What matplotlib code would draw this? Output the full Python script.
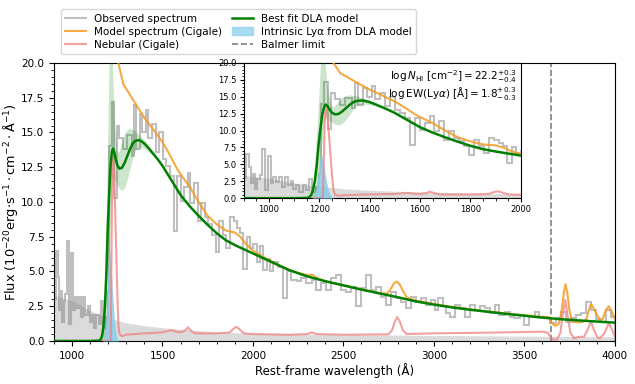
import numpy as np
import matplotlib
matplotlib.use("Agg")
import matplotlib.pyplot as plt
from matplotlib.lines import Line2D
from matplotlib.patches import Patch
from matplotlib.ticker import MultipleLocator

# observed spectrum (bin edges in rest-frame Angstrom, flux per bin)
obs_edges = [900, 910, 921, 930, 937, 944, 953, 963, 973, 984, 996, 1006, 1017, 1027, 1040,
             1051, 1063, 1074, 1086, 1097, 1108, 1121, 1134, 1147, 1160, 1172, 1186, 1197,
             1206, 1220, 1233, 1246, 1262, 1282, 1302, 1329, 1342, 1355, 1375, 1389, 1409,
             1422, 1442, 1462, 1482, 1502, 1521, 1541, 1561, 1581, 1601, 1621, 1641, 1654,
             1674, 1694, 1714, 1734, 1754, 1774, 1794, 1814, 1834, 1853, 1873, 1893, 1913,
             1928, 1946, 1965, 1983, 2002, 2020, 2038, 2057, 2075, 2094, 2112, 2140, 2167,
             2186, 2213, 2241, 2268, 2296, 2324, 2351, 2379, 2406, 2434, 2462, 2489, 2517,
             2544, 2572, 2600, 2627, 2655, 2682, 2710, 2738, 2765, 2793, 2820, 2848, 2876,
             2903, 2931, 2958, 2986, 3005, 3023, 3051, 3069, 3087, 3115, 3143, 3170, 3198,
             3225, 3253, 3281, 3308, 3336, 3363, 3391, 3419, 3446, 3474, 3501, 3529, 3557,
             3584, 3612, 3640, 3676, 3704, 3731, 3759, 3787, 3814, 3842, 3870, 3897, 3925,
             3952, 3980, 4000]
obs_flux = [3.0, 6.5, 4.6, 2.2, 3.6, 1.4, 2.9, 3.4, 7.2, 1.2, 6.3, 2.2, 3.2, 2.4, 3.2,
            1.7, 3.2, 1.9, 2.5, 1.4, 1.9, 0.9, 1.9, 1.2, 2.9, 0.9, 1.7,
            3.5, 14.0, 17.2, 10.3, 15.5, 14.6, 13.8, 14.8, 13.3, 17.0, 13.8, 16.3, 15.0,
            16.6, 14.6, 15.6, 13.6, 15.0, 13.1, 12.6, 11.9, 7.9, 11.9, 10.1, 11.1, 12.1,
            9.9, 11.4, 8.6, 9.9, 8.9, 8.4, 7.65, 6.4, 8.6, 7.65, 6.7, 8.9, 8.6,
            8.1, 7.75, 5.2, 7.5, 6.7, 7.0, 5.7, 6.8, 5.1, 5.9, 5.0, 5.7, 5.3,
            3.1, 5.0, 4.4, 4.3, 4.5, 4.15, 4.4, 3.7, 4.15, 3.7, 4.5, 4.75, 3.7,
            3.55, 3.9, 2.5, 3.8, 4.75, 3.7, 3.9, 3.2, 2.6, 3.55, 3.1, 2.8, 2.35,
            3.2, 2.8, 3.1, 2.6, 2.95, 2.2, 3.1, 2.5, 2.0, 1.75, 2.6, 2.35, 1.75,
            2.6, 2.2, 2.5, 2.35, 2.0, 2.6, 1.85, 2.1, 1.75, 1.65, 1.85, 1.15, 1.75,
            2.1, 1.75, 1.65, 1.3, 1.65, 2.1, 1.4, 1.65, 1.85, 2.0, 2.8, 2.2, 1.6,
            1.4, 2.2, 1.75]

# noise level (grey band)
err_wave = [900, 1000, 1100, 1150, 1200, 1250, 1300, 1400, 1500, 1600, 1700, 1800, 1900,
            2000, 2250, 2500, 3000, 3500, 4000]
err_flux = [3.3, 2.9, 2.2, 1.9, 1.65, 1.5, 1.3, 1.1, 0.95, 0.85, 0.75, 0.65, 0.6,
            0.55, 0.5, 0.45, 0.4, 0.35, 0.3]

# best fit DLA model
dla_wave = [900, 1100, 1150, 1160, 1167, 1174, 1182, 1190, 1197, 1205, 1212, 1220, 1226,
            1233, 1240, 1250, 1262, 1275, 1290, 1305, 1320, 1335, 1350, 1365, 1380,
            1400, 1425, 1450, 1475, 1500, 1550, 1600, 1650, 1700, 1750, 1800, 1850, 1900,
            1950, 2000, 2100, 2200, 2300, 2400, 2500, 2600, 2700, 2800, 2900, 3000, 3100,
            3200, 3300, 3400, 3500, 3600, 3700, 3800, 3900, 4000]
dla_flux = [0, 0, 0.03, 0.15, 0.45, 1.1, 2.5, 5.0, 8.0, 10.5, 12.5, 13.6, 13.85,
            13.6, 13.15, 12.65, 12.4, 12.45, 12.8, 13.3, 13.8, 14.2, 14.4, 14.45, 14.4,
            14.2, 13.85, 13.45, 13.05, 12.6, 11.55, 10.5, 9.7, 9.0, 8.35, 7.75, 7.25, 6.9,
            6.6, 6.3, 5.7, 5.1, 4.65, 4.3, 4.0, 3.7, 3.42, 3.15, 2.85, 2.62, 2.42,
            2.25, 2.1, 1.95, 1.82, 1.68, 1.57, 1.48, 1.4, 1.32]

# DLA model uncertainty band
band_wave = [1165, 1175, 1185, 1195, 1203, 1210, 1217, 1225, 1235, 1247, 1260, 1275, 1290,
             1305, 1320, 1335, 1350, 1365, 1380, 1400, 1425, 1450, 1475, 1500]
band_hi = [0.5, 2.5, 7.0, 13.0, 19.0, 23.0, 23.0, 19.0, 15.5, 13.6, 13.6, 14.3, 14.9,
           15.2, 15.3, 15.2, 15.1, 14.9, 14.7, 14.5, 14.0, 13.5, 13.1, 12.65]
band_lo = [0, 0, 0.3, 1.5, 4.0, 8.0, 11.0, 11.8, 11.6, 11.3, 11.0, 10.8, 11.0,
           11.6, 12.4, 13.2, 13.7, 13.9, 13.9, 13.85, 13.6, 13.3, 12.95, 12.55]

# intrinsic Lya from DLA model
lya_wave = [1170, 1180, 1188, 1195, 1201, 1207, 1213, 1219, 1226, 1234, 1242, 1250, 1258]
lya_flux = [0, 0.3, 1.5, 3.5, 5.5, 6.6, 6.0, 4.6, 3.0, 1.5, 0.6, 0.15, 0]

# Cigale model spectrum
cig_wave = [1225, 1245, 1256, 1283, 1335, 1388, 1400, 1450, 1500, 1540, 1560, 1580, 1600,
            1650, 1700, 1750, 1800, 1850, 1900, 1930, 1960, 2000, 2050, 2100, 2150, 2200,
            2250, 2300, 2330, 2360, 2400, 2500, 2600, 2700, 2740, 2760, 2780, 2795, 2810,
            2830, 2850, 2900, 3000, 3100, 3200, 3300, 3400, 3500, 3600, 3640, 3650, 3670,
            3690, 3705, 3718, 3728, 3738, 3750, 3765, 3790, 3820, 3845, 3858, 3870, 3882,
            3900, 3920, 3935, 3950, 3967, 3980, 4000]
cig_flux = [30.0, 22.0, 20.0, 18.5, 17.4, 16.3, 16.05, 15.2, 14.3, 13.4, 12.9, 12.4, 12.0,
            11.1, 10.0, 9.0, 8.4, 7.95, 7.8, 7.5, 7.0, 6.5, 6.1, 5.75, 5.4, 5.1,
            4.9, 4.75, 4.75, 4.5, 4.3, 4.02, 3.72, 3.45, 3.4, 3.7, 4.15, 4.28, 4.1,
            3.6, 3.15, 2.9, 2.66, 2.45, 2.28, 2.12, 1.98, 1.85, 1.74, 1.72, 1.3, 1.1,
            1.2, 2.0, 3.4, 4.1, 3.5, 2.2, 1.4, 1.35, 1.35, 1.6, 2.3, 2.65, 2.4,
            1.9, 1.5, 1.6, 2.2, 2.5, 2.2, 1.65]

# nebular component (Cigale)
neb_wave = [900, 1214, 1218, 1222, 1228, 1234, 1242, 1250, 1256, 1262,
            1275, 1300, 1400, 1500, 1530, 1550, 1570, 1600, 1625, 1640, 1655, 1680, 1800,
            1870, 1890, 1908, 1925, 1950, 2000, 2200, 2300, 2326, 2350, 2500, 2750, 2770,
            2785, 2798, 2812, 2830, 2850, 3000, 3300, 3600, 3630, 3645, 3660, 3680, 3700,
            3712, 3727, 3740, 3755, 3775, 3800, 3830, 3850, 3869, 3885, 3905, 3920, 3945,
            3968, 3985, 4000]
neb_flux = [0, 0, 6.0, 12.5, 13.3, 11.5, 7.6, 3.5, 1.2, 0.5,
            0.35, 0.45, 0.55, 0.62, 0.72, 0.78, 0.68, 0.62, 0.75, 0.98, 0.75, 0.55, 0.55,
            0.6, 0.85, 1.02, 0.85, 0.55, 0.5, 0.45, 0.5, 0.62, 0.5, 0.45, 0.48, 0.8,
            1.4, 1.72, 1.4, 0.75, 0.5, 0.55, 0.6, 0.67, 0.6, 0.3, 0.08, 0.1, 0.6,
            1.8, 2.95, 1.8, 0.6, 0.2, 0.3, 0.3, 0.8, 1.4, 0.8, 0.25, 0.2, 0.6,
            1.3, 0.8, 0.35]

BALMER = 3646

C_OBS = "gray"
C_CIG = "#f59b23"
C_NEB = "lightcoral"
C_DLA = "green"
C_LYA = "skyblue"


def draw(ax):
    ax.fill_between(err_wave, 0, err_flux, color="lightgray", alpha=0.8, lw=0, zorder=1)
    ax.stairs(obs_flux, obs_edges, color=C_OBS, alpha=0.5, lw=1.5, zorder=2)
    ax.fill_between(band_wave, band_lo, band_hi, color=C_DLA, alpha=0.2, lw=0, zorder=3)
    ax.fill_between(lya_wave, 0, lya_flux, color=C_LYA, alpha=0.85, lw=0, zorder=3.5)
    ax.plot(neb_wave, neb_flux, color=C_NEB, alpha=0.75, lw=1.5, zorder=4)
    ax.plot(cig_wave, cig_flux, color=C_CIG, alpha=0.85, lw=1.5, zorder=5)
    ax.plot(dla_wave, dla_flux, color=C_DLA, lw=1.8, zorder=6)
    ax.set_ylim(0, 20)


fig = plt.figure(figsize=(6.35, 3.84), dpi=100)
ax = fig.add_axes([0.085, 0.112, 0.883, 0.724])
draw(ax)
ax.axvline(BALMER, color="gray", ls="--", lw=1.2, zorder=1)
ax.set_xlim(900, 4000)
ax.xaxis.set_major_locator(MultipleLocator(500))
ax.xaxis.set_minor_locator(MultipleLocator(100))
ax.yaxis.set_major_locator(MultipleLocator(2.5))
ax.yaxis.set_minor_locator(MultipleLocator(0.5))
ax.tick_params(labelsize=7.5)
ax.set_xlabel("Rest-frame wavelength (Å)", fontsize=8.5, labelpad=2)
ax.set_ylabel(r"Flux (10$^{-20}$erg$\cdot$s$^{-1}\cdot$cm$^{-2}\cdot$Å$^{-1}$)",
              fontsize=9.3, labelpad=1)

handles = [
    Line2D([], [], color=C_OBS, alpha=0.5, lw=1.5, label="Observed spectrum"),
    Line2D([], [], color=C_CIG, alpha=0.85, lw=1.5, label="Model spectrum (Cigale)"),
    Line2D([], [], color=C_NEB, alpha=0.75, lw=1.5, label="Nebular (Cigale)"),
    Line2D([], [], color=C_DLA, lw=1.8, label="Best fit DLA model"),
    Patch(color=C_LYA, alpha=0.7, label="Intrinsic Lyα from DLA model"),
    Line2D([], [], color="gray", ls="--", lw=1.2, label="Balmer limit"),
]
ax.legend(handles=handles, loc="lower left", bbox_to_anchor=(0.0125, 1.032), ncol=2,
          fontsize=7.5, borderaxespad=0, columnspacing=0.9, handlelength=2.0,
          labelspacing=0.3, borderpad=0.4)

# inset zoomed on Lya
axin = fig.add_axes([0.384, 0.484, 0.436, 0.352])
draw(axin)
axin.set_xlim(900, 2000)
axin.xaxis.set_major_locator(MultipleLocator(200))
axin.xaxis.set_minor_locator(MultipleLocator(50))
axin.yaxis.set_major_locator(MultipleLocator(2.5))
axin.yaxis.set_minor_locator(MultipleLocator(0.5))
axin.tick_params(labelsize=6, length=3, pad=2)
axin.tick_params(which="minor", length=1.8)
axin.text(0.985, 0.965,
          r"$\log N_{\rm HI}$ [cm$^{-2}$]$ = 22.2^{+0.3}_{-0.4}$" "\n"
          r"$\log {\rm EW(Ly}\alpha{\rm )}$ [Å]$ = 1.8^{+0.3}_{-0.3}$",
          transform=axin.transAxes, ha="right", va="top", fontsize=7.5, linespacing=1.0)

fig.savefig("out.png", dpi=100)
